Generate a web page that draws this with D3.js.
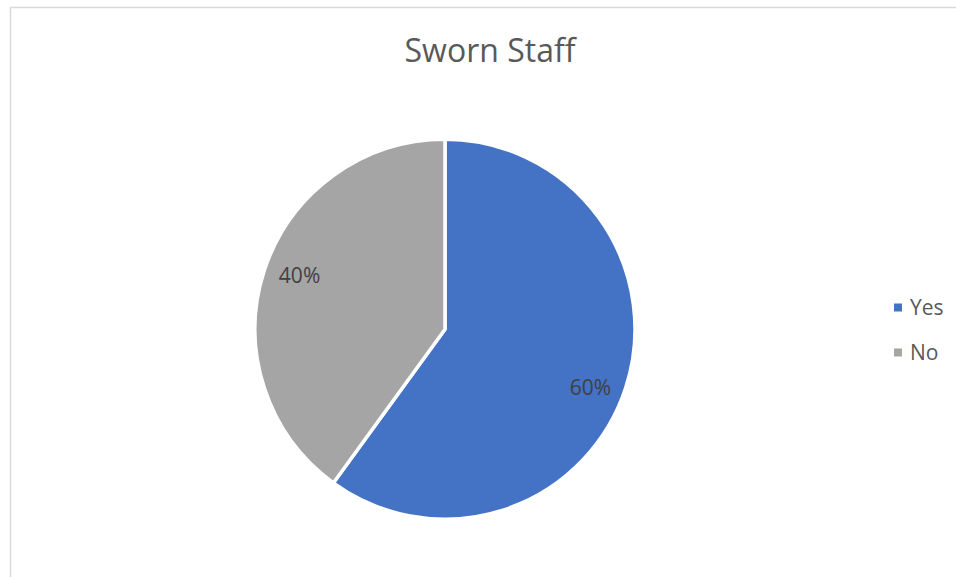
<!DOCTYPE html>
<html><head><meta charset="utf-8">
<script src="https://cdn.jsdelivr.net/npm/d3@7"></script>
<style>body{margin:0;background:#fff;}svg{display:block;}</style>
</head><body>
<svg id="chart" width="956" height="577"></svg>
<script>
const title = "Sworn Staff";
const categories = ["Yes", "No"];
const values = [60, 40];
const colors = ["#4472C4", "#A5A5A5"];

const svg = d3.select("#chart");
const W = 956, H = 577;
const font = "'Open Sans', 'Liberation Sans', sans-serif";

// chart border (top and left visible)
svg.append("rect").attr("x", 10.5).attr("y", 7.5).attr("width", W).attr("height", H)
  .attr("fill", "#fff").attr("stroke", "#d9d9d9").attr("stroke-width", 1.5);

svg.append("text").attr("x", 490).attr("y", 62).attr("text-anchor", "middle")
  .attr("font-family", font).attr("font-size", 32).attr("fill", "#595959").text(title);

const cx = 445, cy = 329.2, R = 190;
const pie = d3.pie().sort(null).value(d => d.v);
const arcs = pie(categories.map((c, i) => ({c, v: values[i], color: colors[i]})));
const arc = d3.arc().innerRadius(0).outerRadius(R);
const labelArc = d3.arc().innerRadius(R * 0.82).outerRadius(R * 0.82);
const total = d3.sum(values);
const shift = 3 * Math.PI / 180;

const g = svg.append("g").attr("transform", `translate(${cx},${cy})`);
g.selectAll("path").data(arcs).join("path")
  .attr("d", arc).attr("fill", d => d.data.color)
  .attr("stroke", "#fff").attr("stroke-width", 3.5).attr("stroke-linejoin", "round");
g.selectAll("text").data(arcs).join("text")
  .attr("transform", d => `translate(${labelArc.centroid({startAngle: d.startAngle + shift, endAngle: d.endAngle + shift})})`)
  .attr("text-anchor", "middle").attr("y", 10)
  .attr("font-family", font).attr("font-size", 21).attr("fill", "#404040")
  .text(d => Math.round(d.data.v / total * 100) + "%");

const leg = svg.append("g");
categories.forEach((c, i) => {
  const y = 307.5 + i * 45;
  leg.append("rect").attr("x", 894).attr("y", y - 4).attr("width", 8).attr("height", 8).attr("fill", colors[i]);
  leg.append("text").attr("x", 910).attr("y", y + 7)
    .attr("font-family", font).attr("font-size", 21).attr("fill", "#595959").text(c);
});
</script>
</body></html>
